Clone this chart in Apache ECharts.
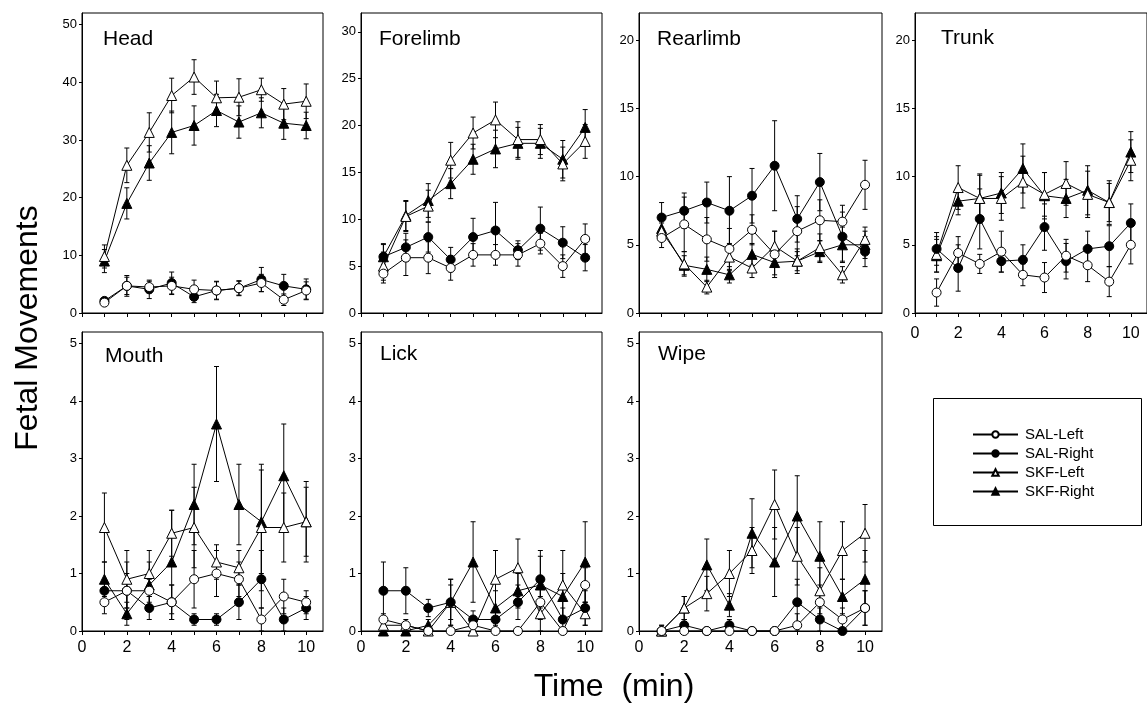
<!DOCTYPE html>
<html>
<head>
<meta charset="utf-8">
<script src="https://cdn.jsdelivr.net/npm/echarts@6/dist/echarts.min.js"></script>
<style>
  html, body { margin: 0; padding: 0; background: #fff; }
  #chart { width: 1147px; height: 712px; }
</style>
</head>
<body>
<div id="chart"></div>
<script>
// minutes on the x axis
const minutes = [1, 2, 3, 4, 5, 6, 7, 8, 9, 10];
const groups = ['SAL-Left', 'SAL-Right', 'SKF-Left', 'SKF-Right'];
const panelNames = ['Head', 'Forelimb', 'Rearlimb', 'Trunk', 'Mouth', 'Lick', 'Wipe'];
const xTicks = [0, 1, 2, 3, 4, 5, 6, 7, 8, 9, 10];
const xLabels = [0, 2, 4, 6, 8, 10];
const yMax = [52, 32, 22, 22, 5.2, 5.2, 5.2];
const yTicks = [
  [0, 10, 20, 30, 40, 50],
  [0, 5, 10, 15, 20, 25, 30],
  [0, 5, 10, 15, 20],
  [0, 5, 10, 15, 20],
  [0, 1, 2, 3, 4, 5],
  [0, 1, 2, 3, 4, 5],
  [0, 1, 2, 3, 4, 5]
];

// means, rows = SAL-Left, SAL-Right, SKF-Left, SKF-Right
const headMean = [
  [1.8, 4.7, 4.5, 4.7, 4.1, 3.9, 4.3, 5.2, 2.3, 3.9],
  [2.1, 4.7, 4.1, 5.2, 2.8, 3.9, 4.3, 5.8, 4.7, 4.1],
  [9.8, 25.6, 31.3, 37.7, 40.9, 37.3, 37.4, 38.7, 36.2, 36.7],
  [9.0, 19.0, 26.0, 31.3, 32.5, 35.1, 33.1, 34.7, 32.9, 32.5]
];
const headSem = [
  [0.5, 1.5, 1.0, 1.5, 1.6, 1.5, 1.2, 1.5, 1.0, 1.5],
  [0.6, 1.8, 1.6, 1.9, 1.0, 1.6, 1.3, 2.1, 2.0, 1.8],
  [2.0, 3.0, 3.4, 3.0, 3.0, 2.9, 3.2, 2.0, 2.7, 3.0],
  [2.0, 2.7, 3.0, 3.7, 3.4, 2.8, 2.8, 2.6, 2.8, 2.3]
];
const forelimbMean = [
  [4.2, 5.9, 5.9, 4.8, 6.2, 6.2, 6.2, 7.4, 5.0, 7.9],
  [6.0, 7.0, 8.1, 5.7, 8.1, 8.8, 6.7, 9.0, 7.5, 5.9],
  [5.0, 10.3, 11.4, 16.3, 19.2, 20.6, 18.5, 18.5, 15.9, 18.3],
  [6.0, 10.4, 12.0, 13.8, 16.4, 17.5, 18.1, 18.1, 16.4, 19.8]
];
const forelimbSem = [
  [1.0, 1.9, 1.7, 1.3, 1.2, 1.1, 1.2, 1.1, 1.2, 1.6],
  [1.3, 1.5, 1.6, 1.3, 2.0, 3.0, 1.0, 2.3, 1.7, 1.4],
  [1.5, 1.6, 1.7, 1.9, 1.7, 1.9, 1.9, 1.6, 1.8, 1.8],
  [1.4, 1.6, 1.8, 1.6, 1.6, 2.0, 1.7, 1.6, 2.0, 1.9]
];
const rearlimbMean = [
  [5.5, 6.5, 5.4, 4.7, 6.1, 4.3, 6.0, 6.8, 6.7, 9.4],
  [7.0, 7.5, 8.1, 7.5, 8.6, 10.8, 6.9, 9.6, 5.6, 4.5],
  [6.0, 3.6, 1.9, 4.1, 3.3, 4.9, 3.8, 4.8, 2.8, 5.4],
  [6.2, 3.5, 3.2, 2.8, 4.3, 3.7, 3.8, 4.5, 5.0, 5.0]
];
const rearlimbSem = [
  [0.7, 2.0, 1.6, 1.5, 1.1, 1.7, 1.8, 1.5, 1.2, 1.8],
  [1.1, 1.3, 1.5, 2.5, 2.0, 3.3, 1.7, 2.1, 1.8, 1.1],
  [0.6, 0.9, 0.5, 1.0, 0.7, 1.1, 0.9, 1.0, 0.6, 0.9],
  [0.8, 0.7, 0.9, 0.6, 0.8, 0.9, 0.7, 0.8, 1.3, 1.0]
];
const trunkMean = [
  [1.5, 4.4, 3.6, 4.5, 2.8, 2.6, 4.2, 3.5, 2.3, 5.0],
  [4.7, 3.3, 6.9, 3.8, 3.9, 6.3, 3.8, 4.7, 4.9, 6.6],
  [4.3, 9.2, 8.4, 8.4, 9.6, 8.7, 9.5, 8.7, 8.1, 11.2],
  [4.2, 8.2, 8.4, 8.8, 10.6, 8.6, 8.4, 9.0, 8.1, 11.8]
];
const trunkSem = [
  [1.0, 1.2, 0.7, 1.5, 0.8, 1.1, 1.2, 1.2, 1.1, 1.4],
  [1.2, 1.7, 2.2, 0.8, 1.1, 1.7, 1.3, 1.3, 1.5, 1.4],
  [1.3, 1.6, 1.7, 1.6, 1.9, 1.6, 1.6, 1.7, 1.4, 1.5],
  [1.2, 1.0, 1.8, 1.5, 1.8, 1.7, 1.4, 1.8, 1.6, 1.5]
];
const mouthMean = [
  [0.5, 0.7, 0.7, 0.5, 0.9, 1.0, 0.9, 0.2, 0.6, 0.5],
  [0.7, 0.7, 0.4, 0.5, 0.2, 0.2, 0.5, 0.9, 0.2, 0.4],
  [1.8, 0.9, 1.0, 1.7, 1.8, 1.2, 1.1, 1.8, 1.8, 1.9],
  [0.9, 0.3, 0.8, 1.2, 2.2, 3.6, 2.2, 1.9, 2.7, 1.9]
];
const mouthSem = [
  [0.2, 0.3, 0.2, 0.3, 0.5, 0.4, 0.3, 0.2, 0.3, 0.2],
  [0.2, 0.5, 0.2, 0.3, 0.1, 0.1, 0.3, 0.5, 0.2, 0.2],
  [0.6, 0.5, 0.4, 0.4, 0.7, 0.3, 0.3, 1.1, 0.6, 0.6],
  [0.3, 0.2, 0.4, 0.9, 0.7, 1.0, 0.7, 0.9, 0.9, 0.7]
];
const lickMean = [
  [0.2, 0.1, 0.0, 0.0, 0.1, 0.0, 0.0, 0.5, 0.0, 0.8],
  [0.7, 0.7, 0.4, 0.5, 0.2, 0.2, 0.5, 0.9, 0.2, 0.4],
  [0.1, 0.1, 0.0, 0.5, 0.0, 0.9, 1.1, 0.3, 0.8, 0.3],
  [0.0, 0.0, 0.1, 0.5, 1.2, 0.4, 0.7, 0.8, 0.6, 1.2]
];
const lickSem = [
  [0.1, 0.05, 0, 0, 0.1, 0, 0, 0.3, 0, 0.3],
  [0.5, 0.4, 0.15, 0.4, 0.15, 0.2, 0.3, 0.5, 0.2, 0.3],
  [0.1, 0.1, 0, 0.3, 0, 0.5, 0.5, 0.3, 0.6, 0.2],
  [0, 0, 0.1, 0.4, 0.7, 0.3, 0.3, 0.5, 0.4, 0.7]
];
const wipeMean = [
  [0, 0, 0, 0, 0, 0, 0.1, 0.5, 0.2, 0.4],
  [0, 0.1, 0, 0.1, 0, 0, 0.5, 0.2, 0, 0.4],
  [0, 0.4, 0.65, 1.0, 1.4, 2.2, 1.3, 0.7, 1.4, 1.7],
  [0, 0.4, 1.15, 0.45, 1.7, 1.2, 2.0, 1.3, 0.6, 0.9]
];
const wipeSem = [
  [0, 0, 0, 0, 0, 0, 0.2, 0.3, 0.2, 0.3],
  [0, 0.1, 0, 0.1, 0, 0, 0.4, 0.2, 0, 0.3],
  [0.1, 0.2, 0.3, 0.4, 0.4, 0.6, 0.5, 0.4, 0.5, 0.5],
  [0.1, 0.2, 0.45, 0.2, 0.6, 0.6, 0.7, 0.6, 0.3, 0.5]
];

const means = [headMean, forelimbMean, rearlimbMean, trunkMean, mouthMean, lickMean, wipeMean];
const sems = [headSem, forelimbSem, rearlimbSem, trunkSem, mouthSem, lickSem, wipeSem];

const font = '"Liberation Sans", Arial, Helvetica, sans-serif';
const gridBoxes = [
  { left: 82, top: 13, width: 241, height: 300 },
  { left: 361, top: 13, width: 241, height: 300 },
  { left: 639, top: 13, width: 243, height: 300 },
  { left: 915, top: 13, width: 241, height: 300 },
  { left: 82, top: 332, width: 241, height: 299 },
  { left: 361, top: 332, width: 241, height: 299 },
  { left: 639, top: 332, width: 243, height: 299 }
];
const titlePos = [[103, 29], [379, 29], [657, 29], [941, 28], [105, 346], [380, 344], [658, 344]];
const symbols = ['circle', 'circle', 'triangle', 'triangle'];
const fills = ['#fff', '#000', '#fff', '#000'];
const sizes = [9, 9, 10, 10];

const chart = echarts.init(document.getElementById('chart'));

function renderErrorBar(params, api) {
  const x = api.value(0);
  const lo = api.value(1);
  const hi = api.value(2);
  if (hi - lo <= 0) return null;
  const top = api.coord([x, hi]);
  const bot = api.coord([x, lo]);
  const w = 2.5;
  const st = { stroke: '#000', lineWidth: 1 };
  return {
    type: 'group',
    children: [
      { type: 'line', shape: { x1: top[0], y1: top[1], x2: bot[0], y2: bot[1] }, style: st },
      { type: 'line', shape: { x1: top[0] - w, y1: top[1], x2: top[0] + w, y2: top[1] }, style: st },
      { type: 'line', shape: { x1: bot[0] - w, y1: bot[1], x2: bot[0] + w, y2: bot[1] }, style: st }
    ]
  };
}

const grid = [], xAxis = [], yAxis = [], title = [], series = [];

panelNames.forEach((name, p) => {
  grid.push(Object.assign({ show: true, borderColor: '#000', borderWidth: 1 }, gridBoxes[p]));
  title.push({
    text: name, left: titlePos[p][0], top: titlePos[p][1], padding: 0,
    textStyle: { fontSize: 21, fontWeight: 'normal', color: '#000', fontFamily: font }
  });
  xAxis.push({
    gridIndex: p, type: 'value', min: 0, max: 10.75,
    axisLine: { show: true, onZero: false, lineStyle: { color: '#000', width: 1 } },
    splitLine: { show: false },
    axisTick: { show: true, length: 4, customValues: xTicks, lineStyle: { color: '#000' } },
    axisLabel: {
      show: p >= 3, customValues: xLabels, fontSize: 16, color: '#000',
      fontFamily: font, margin: p === 3 ? 13 : 9
    }
  });
  yAxis.push({
    gridIndex: p, type: 'value', min: 0, max: yMax[p],
    axisLine: { show: true, onZero: false, lineStyle: { color: '#000', width: 1 } },
    splitLine: { show: false },
    axisTick: { show: true, length: 3, customValues: yTicks[p], lineStyle: { color: '#000' } },
    axisLabel: { customValues: yTicks[p], fontSize: 13, color: '#000', fontFamily: font, margin: 5 }
  });

  // error bars for all four groups of this panel
  const bars = [];
  groups.forEach((g, k) => {
    minutes.forEach((m, i) => {
      const v = means[p][k][i], s = sems[p][k][i];
      bars.push([m, Math.max(0, v - s), v + s]);
    });
  });
  series.push({
    type: 'custom', xAxisIndex: p, yAxisIndex: p, z: 1,
    renderItem: renderErrorBar, encode: { x: 0, y: [1, 2] },
    data: bars, silent: true
  });

  [3, 2, 1, 0].forEach(k => {
    series.push({
      name: groups[k], type: 'line', xAxisIndex: p, yAxisIndex: p, z: 2 + (3 - k),
      data: minutes.map((m, i) => [m, means[p][k][i]]),
      symbol: symbols[k], symbolSize: sizes[k], showAllSymbol: true,
      lineStyle: { color: '#000', width: 1 },
      itemStyle: { color: fills[k], borderColor: '#000', borderWidth: 1 },
      emphasis: { disabled: true }
    });
  });
});

const option = {
  animation: false,
  backgroundColor: '#fff',
  textStyle: { fontFamily: font },
  title: title,
  grid: grid,
  xAxis: xAxis,
  yAxis: yAxis,
  legend: {
    data: groups, orient: 'vertical', left: 967, top: 422,
    itemWidth: 45, itemHeight: 8, itemGap: 4, selectedMode: false,
    textStyle: { fontSize: 15, color: '#000', fontFamily: font, padding: [0, 0, 0, 2] }
  },
  graphic: [
    {
      type: 'rect', left: 931, top: 396,
      shape: { width: 208, height: 127 },
      style: { fill: 'none', stroke: '#000', lineWidth: 1 }
    },
    {
      type: 'text', x: 28, y: 328, rotation: Math.PI / 2,
      style: { text: 'Fetal Movements', font: '32px ' + font, fill: '#000', align: 'center', verticalAlign: 'middle' }
    },
    {
      type: 'text', x: 614, y: 687,
      style: { text: 'Time  (min)', font: '32px ' + font, fill: '#000', align: 'center', verticalAlign: 'middle' }
    }
  ],
  series: series
};

chart.setOption(option);
</script>
</body>
</html>
